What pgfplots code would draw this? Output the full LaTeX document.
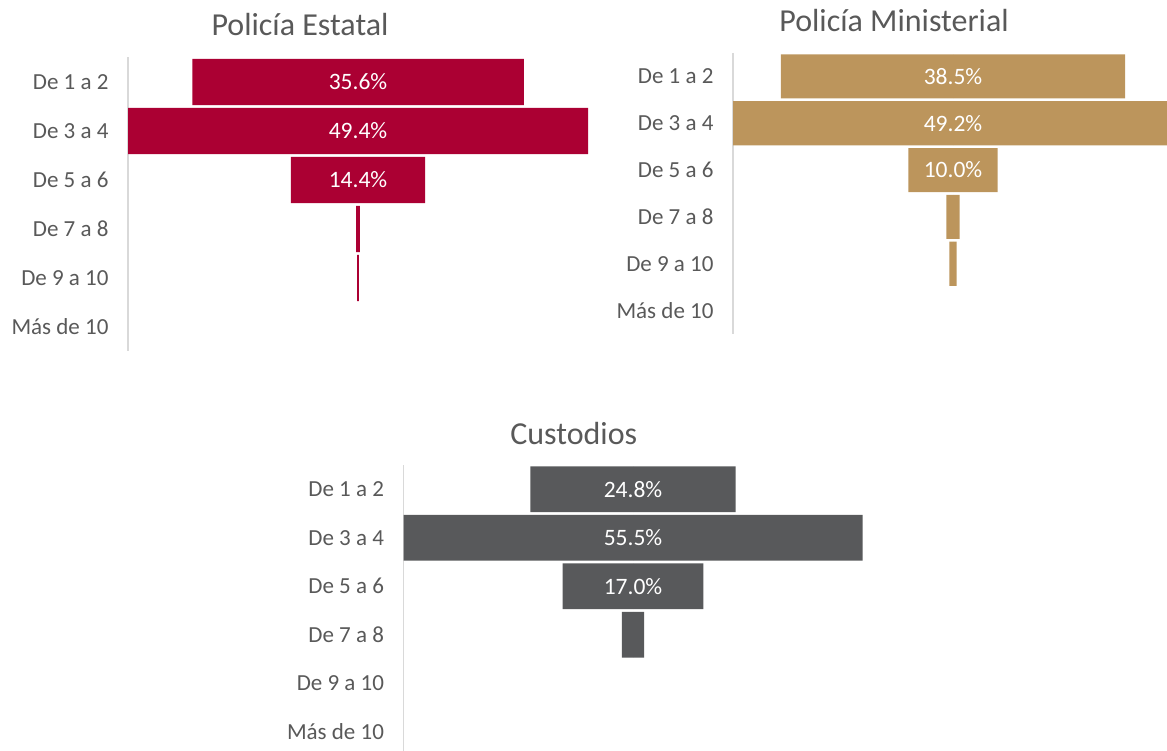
\documentclass[border=0pt]{standalone}
\usepackage{pgfplots}
\pgfplotsset{compat=1.18}
\usepackage{pgfplotstable}
\usepackage{fontspec}
\setmainfont{Carlito}
\definecolor{estatal}{HTML}{AB0033}
\definecolor{minist}{HTML}{BC955C}
\definecolor{custod}{HTML}{58595B}
\definecolor{txt}{HTML}{595959}
\definecolor{axl}{HTML}{D9D9D9}

\pgfplotstableread{
y v
0 35.6
1 49.4
2 14.4
3 0.4
4 0.2
5 0
}\dataA
\pgfplotstableread{
y v
0 38.5
1 49.2
2 10.0
3 1.5
4 0.8
5 0
}\dataB
\pgfplotstableread{
y v
0 24.8
1 55.5
2 17.0
3 2.7
4 0
5 0
}\dataC

\pgfplotsset{funnel/.style={
  scale only axis, xbar, bar shift=0pt, bar width=0.94,
  y dir=reverse, ymin=-0.5, ymax=5.5,
  ytick={0,...,5},
  yticklabels={De 1 a 2, De 3 a 4, De 5 a 6, De 7 a 8, De 9 a 10, Más de 10},
  axis x line=none, axis y line*=left,
  y axis line style={draw=axl, line width=1.5pt},
  major tick length=0pt,
  unbounded coords=discard,
  yticklabel style={font=\fontsize{23}{27}\selectfont, text=txt, xshift=-16pt},
  /pgf/number format/assume math mode=true,
}}
\pgfplotsset{bars/.style={draw=none, x filter/.expression={abs(x)<0.001 ? nan : x}}}
\pgfplotsset{lbl/.style={draw=none, fill=none,
  nodes near coords={\pgfmathprintnumber[fixed,fixed zerofill,precision=1]{\pgfplotspointmeta}\%},
  point meta=explicit,
  restrict y to domain=-0.5:2.5,
  every node near coord/.style={anchor=center, text=white, font=\fontsize{23.5}{28}\selectfont}}}

\begin{document}
\begin{tikzpicture}
\useasboundingbox (0,0) rectangle (1167pt,750pt);
% Policia Estatal
\begin{axis}[funnel, at={(128pt,692.5pt)}, anchor=north west,
  width=460pt, height=294pt, xmin=-24.7, xmax=24.7,
  title={Policía Estatal},
  every axis title/.style={at={(0.374,1)}, anchor=base, yshift=21.5pt, font=\fontsize{32}{38}\selectfont, text=txt}]
\addplot[bars, fill=estatal] table[x expr=\thisrow{v}/2, y=y] {\dataA};
\addplot[bars, fill=estatal] table[x expr=-\thisrow{v}/2, y=y] {\dataA};
\addplot[lbl] table[x expr=0, y=y, meta=v] {\dataA};
\end{axis}
% Policia Ministerial
\begin{axis}[funnel, at={(733pt,697pt)}, anchor=north west,
  width=440pt, height=281pt, xmin=-24.6, xmax=24.6,
  title={Policía Ministerial},
  every axis title/.style={at={(0.366,1)}, anchor=base, yshift=21pt, font=\fontsize{32}{38}\selectfont, text=txt}]
\addplot[bars, fill=minist] table[x expr=\thisrow{v}/2, y=y] {\dataB};
\addplot[bars, fill=minist] table[x expr=-\thisrow{v}/2, y=y] {\dataB};
\addplot[lbl] table[x expr=0, y=y, meta=v] {\dataB};
\end{axis}
% Custodios
\begin{axis}[funnel, at={(403.5pt,285pt)}, anchor=north west,
  width=459pt, height=291pt, xmin=-27.75, xmax=27.75,
  title={Custodios},
  every axis title/.style={at={(0.371,1)}, anchor=base, yshift=21pt, font=\fontsize{32}{38}\selectfont, text=txt}]
\addplot[bars, fill=custod] table[x expr=\thisrow{v}/2, y=y] {\dataC};
\addplot[bars, fill=custod] table[x expr=-\thisrow{v}/2, y=y] {\dataC};
\addplot[lbl] table[x expr=0, y=y, meta=v] {\dataC};
\end{axis}
\end{tikzpicture}
\end{document}
